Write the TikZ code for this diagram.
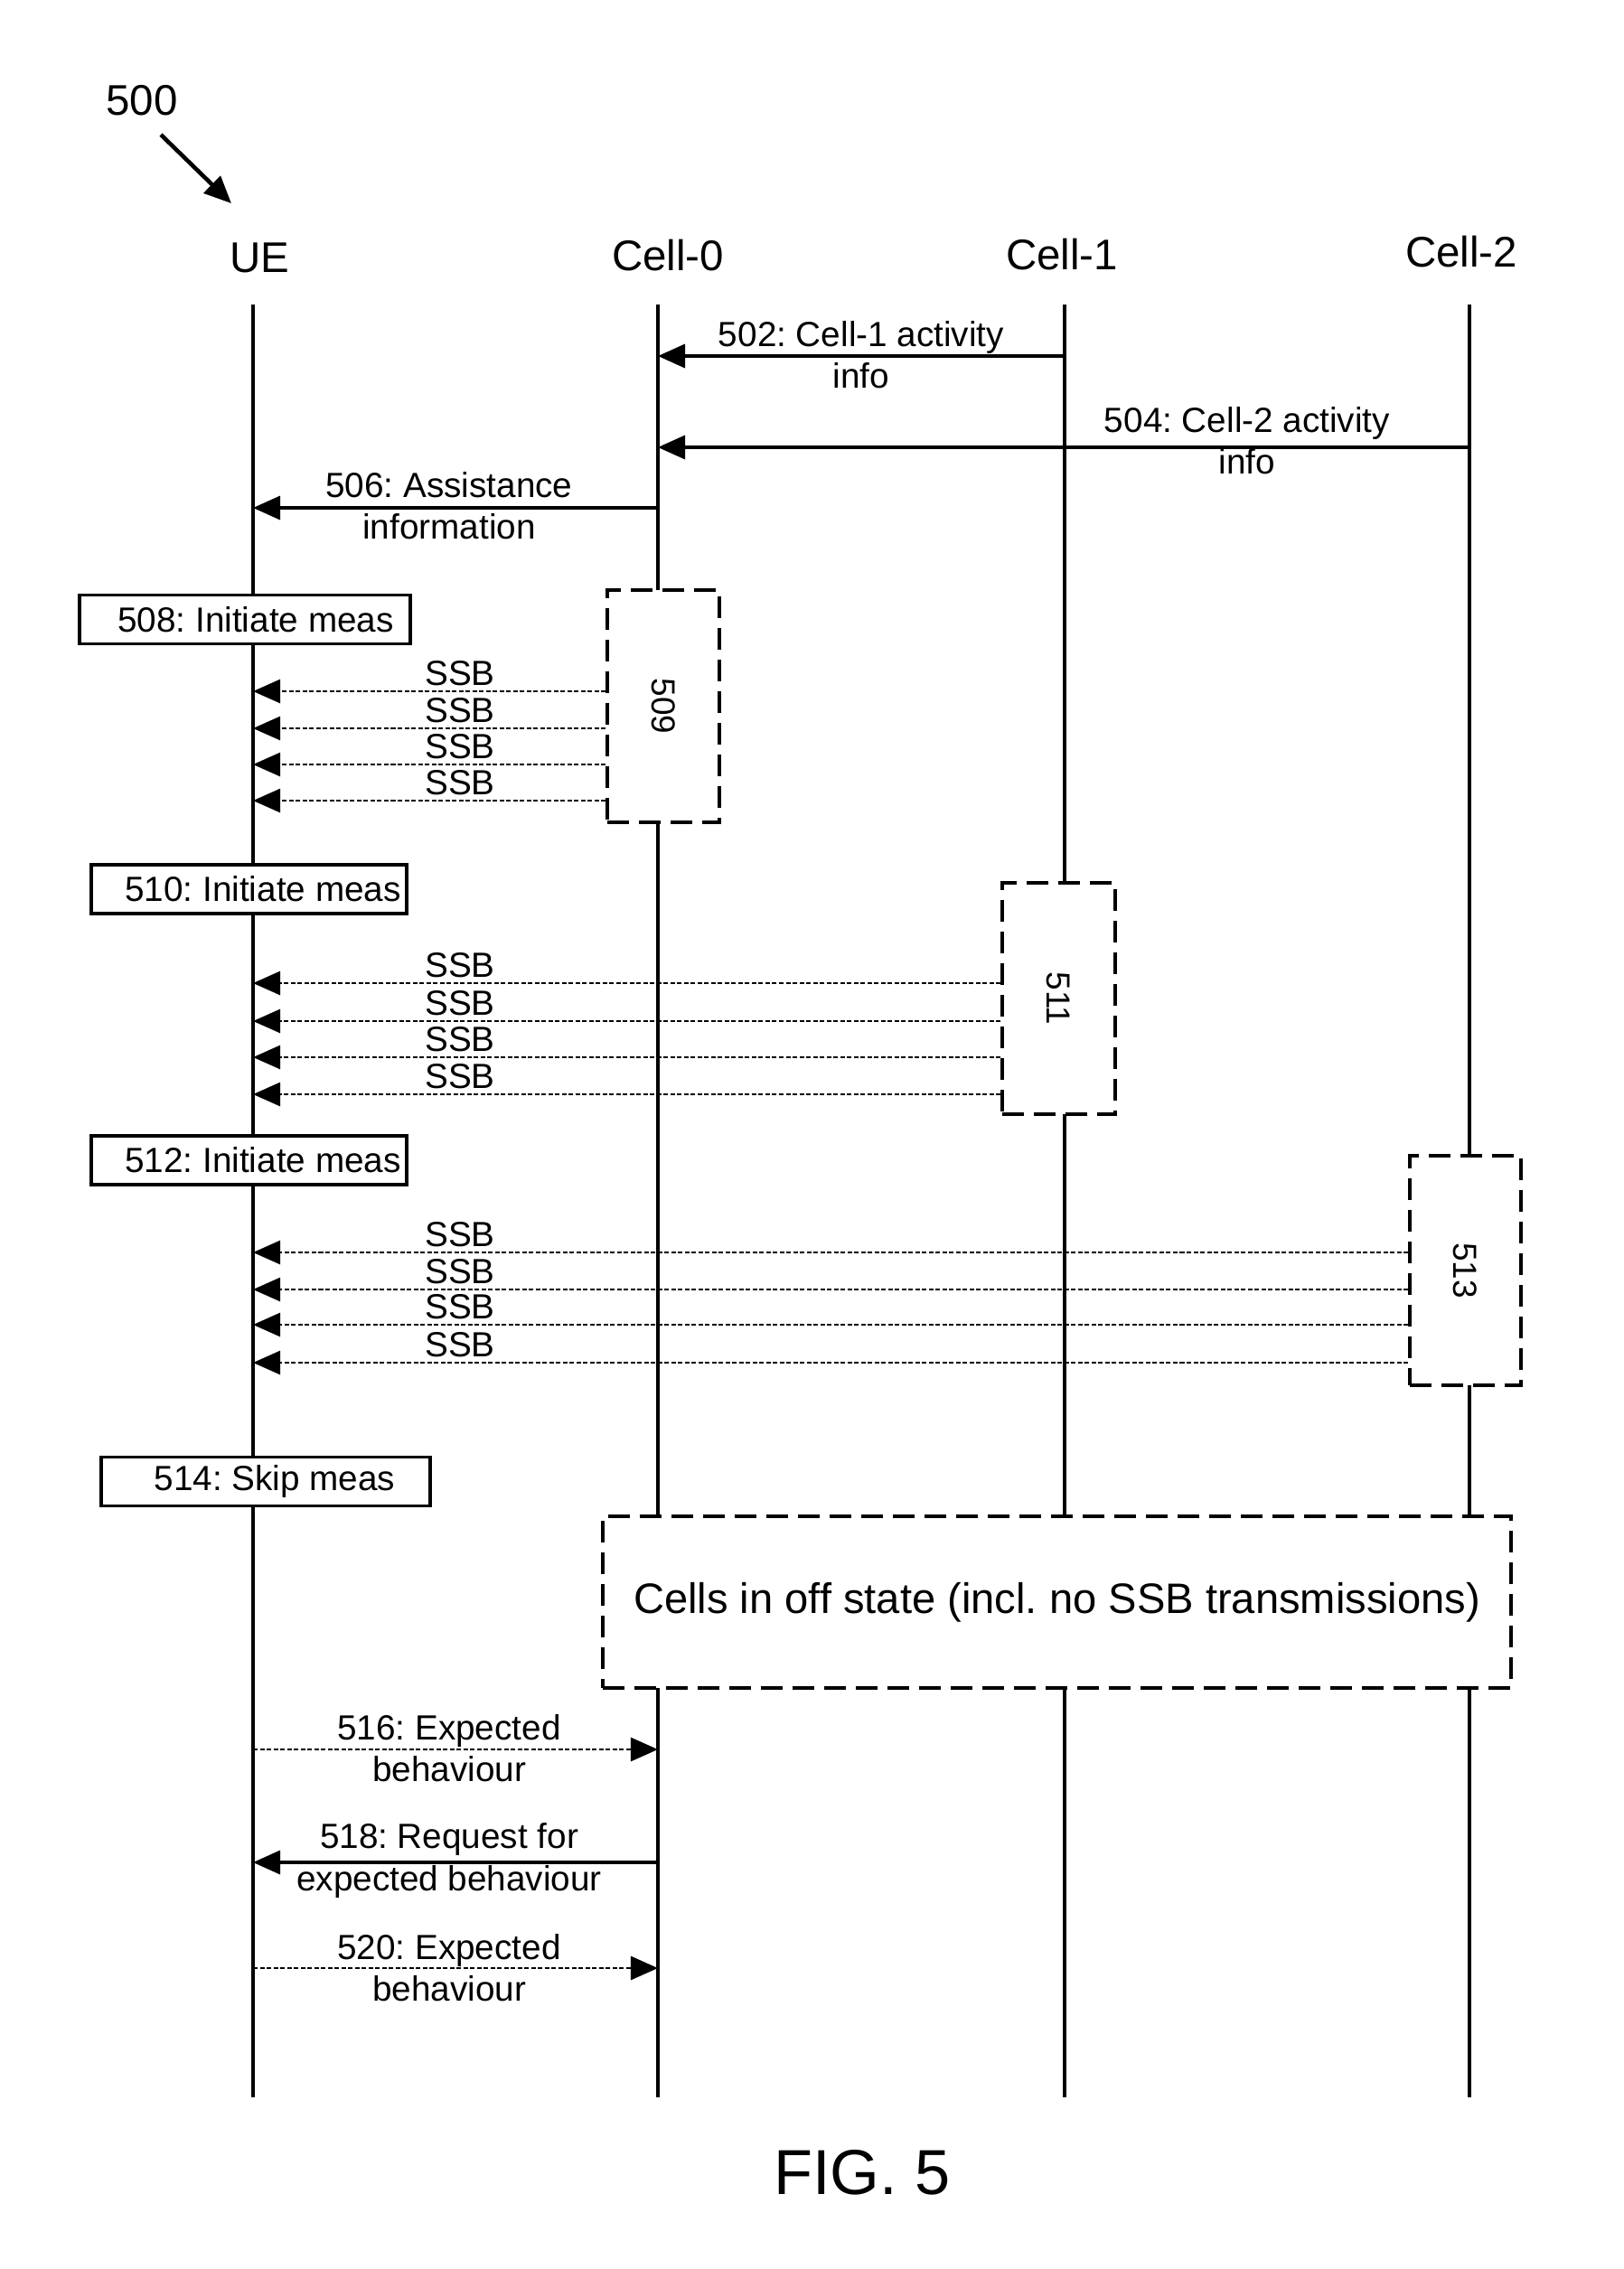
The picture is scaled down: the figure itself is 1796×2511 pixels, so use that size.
\documentclass[tikz,border=0pt]{standalone}
\usepackage{fontspec}
\setmainfont{Liberation Sans}
\usetikzlibrary{arrows.meta}
\frenchspacing
\tikzset{
  life/.style={line width=1pt},
  msg/.style={line width=1pt, -{Triangle[length=0.3cm,width=0.26cm]}},
  dmsg/.style={line width=0.75pt, dash pattern=on 0.05cm off 0.025cm, -{Triangle[length=0.3cm,width=0.26cm]}},
  ptr/.style={line width=1.3pt, -{Triangle[length=0.3cm,width=0.26cm]}},
  hdr/.style={font=\fontsize{13.5}{16}\selectfont, inner sep=0pt},
  lbl/.style={font=\fontsize{11}{13.1}\selectfont, align=center, inner sep=0pt},
  ssbl/.style={font=\fontsize{11}{13.1}\selectfont, inner sep=0pt, anchor=base},
  stepbox/.style={draw, fill=white, line width=1pt, inner sep=0pt, font=\fontsize{11}{13.1}\selectfont, minimum height=0.54cm},
  dbox/.style={draw, fill=white, line width=1.05pt, dash pattern=on 0.24cm off 0.11cm, inner sep=0pt},
}
\begin{document}
\begin{tikzpicture}[x=0.01cm, y=-0.01cm]
\useasboundingbox (0,0) rectangle (1796,2511);

% reference label
\node[hdr] (n500) at (157,111) {500};
\coordinate (a500s) at (178,149);
\coordinate (a500e) at (256,225);
\draw[ptr] (a500s) -- (a500e);

% headers
\node[hdr] (hUE) at (287,285) {UE};
\node[hdr] (hC0) at (739,283) {Cell-0};
\node[hdr] (hC1) at (1175,282) {Cell-1};
\node[hdr] (hC2) at (1617,279) {Cell-2};

% lifelines
\coordinate (ue-top) at (280,337);  \coordinate (ue-bot) at (280,2321);
\coordinate (c0-top) at (728,337);  \coordinate (c0-bot) at (728,2321);
\coordinate (c1-top) at (1178,337); \coordinate (c1-bot) at (1178,2321);
\coordinate (c2-top) at (1626,337); \coordinate (c2-bot) at (1626,2321);
\draw[life] (ue-top) -- (ue-bot);
\draw[life] (c0-top) -- (c0-bot);
\draw[life] (c1-top) -- (c1-bot);
\draw[life] (c2-top) -- (c2-bot);

% 502
\coordinate (y502) at (0,394);
\draw[msg] (c1-top |- y502) -- (c0-top |- y502);
\node[lbl] (l502) at (953,393) {502: Cell-1 activity\\info};
% 504
\coordinate (y504) at (0,495);
\draw[msg] (c2-top |- y504) -- (c0-top |- y504);
\node[lbl] (l504) at (1380,488) {504: Cell-2 activity\\info};
% 506
\coordinate (y506) at (0,562);
\draw[msg] (c0-top |- y506) -- (ue-top |- y506);
\node[lbl] (l506) at (497,560) {506: Assistance\\information};

% 508 / 509
\node[stepbox, minimum width=3.66cm] (b508) at (271,685.5) {\hspace{0.24cm}508: Initiate meas};
\node[dbox, minimum width=1.24cm, minimum height=2.57cm] (b509) at (734,781.5) {};
\node[lbl, rotate=-90, font=\fontsize{10.5}{12}\selectfont] (t509) at (b509.center) {509};
\foreach \y [count=\i] in {765,806,846,886} {
  \coordinate (a509-\i) at (0,\y);
  \node[ssbl] (l509-\i) at (509,\y-7) {SSB};
  \draw[dmsg] (b509.west |- a509-\i) -- (ue-top |- a509-\i);
}

% 510 / 511
\node[stepbox, minimum width=3.49cm] (b510) at (275.5,984) {\hspace{0.31cm}510: Initiate meas};
\node[dbox, minimum width=1.25cm, minimum height=2.56cm] (b511) at (1171.5,1105) {};
\node[lbl, rotate=-90, font=\fontsize{10.5}{12}\selectfont] (t511) at (b511.center) {511};
\foreach \y [count=\i] in {1088,1130,1170,1211} {
  \coordinate (a511-\i) at (0,\y);
  \node[ssbl] (l511-\i) at (509,\y-7) {SSB};
  \draw[dmsg] (b511.west |- a511-\i) -- (ue-top |- a511-\i);
}

% 512 / 513
\node[stepbox, minimum width=3.49cm] (b512) at (275.5,1284) {\hspace{0.31cm}512: Initiate meas};
\node[dbox, minimum width=1.23cm, minimum height=2.54cm] (b513) at (1621.5,1406) {};
\node[lbl, rotate=-90, font=\fontsize{10.5}{12}\selectfont] (t513) at (b513.center) {513};
\foreach \y [count=\i] in {1386,1427,1466,1508} {
  \coordinate (a513-\i) at (0,\y);
  \node[ssbl] (l513-\i) at (509,\y-7) {SSB};
  \draw[dmsg] (b513.west |- a513-\i) -- (ue-top |- a513-\i);
}

% 514
\node[stepbox, minimum width=3.64cm] (b514) at (294,1639.5) {\hspace{0.2cm}514: Skip meas};

% off state
\node[dbox, minimum width=10.05cm, minimum height=1.9cm, font=\fontsize{13.4}{16}\selectfont] (off) at (1169.5,1773) {Cells in off state (incl. no SSB transmissions)};

% 516
\coordinate (y516) at (0,1936);
\draw[dmsg] (ue-top |- y516) -- (c0-top |- y516);
\node[lbl] (l516) at (497,1935) {516: Expected\\behaviour};
% 518
\coordinate (y518) at (0,2061);
\draw[msg] (c0-top |- y518) -- (ue-top |- y518);
\node[lbl] (l518) at (497,2059) {518: Request for\\expected behaviour};
% 520
\coordinate (y520) at (0,2178);
\draw[dmsg] (ue-top |- y520) -- (c0-top |- y520);
\node[lbl] (l520) at (497,2178) {520: Expected\\behaviour};

\node[font=\fontsize{20}{24}\selectfont, inner sep=0pt] (fig) at (954,2404) {FIG. 5};
\end{tikzpicture}
\end{document}
